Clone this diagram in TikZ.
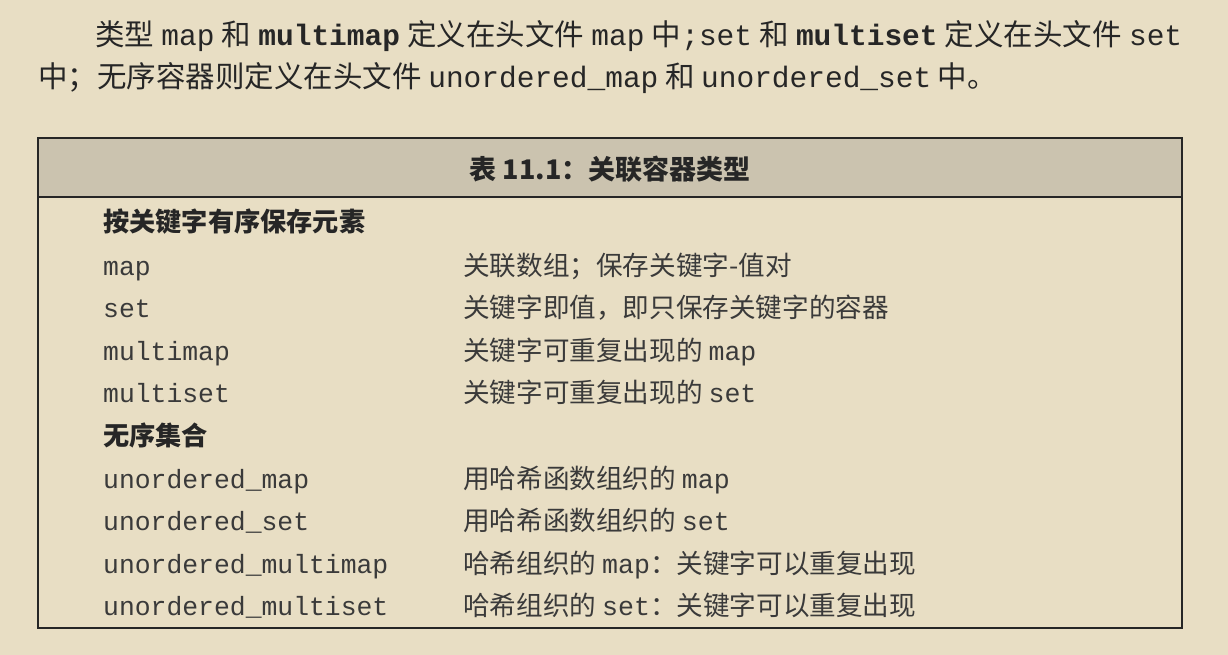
\documentclass[tikz,border=0pt]{standalone}
\usepackage{fontspec}
\setmainfont{Noto Sans CJK SC}
\setmonofont{Liberation Mono}
\definecolor{paper}{HTML}{E8DEC4}
\definecolor{band}{HTML}{CBC3AF}
\definecolor{ink}{HTML}{262626}
\definecolor{inklight}{HTML}{3A3A3A}
\tikzset{
  bodyline/.style={anchor=base west, inner sep=0pt, text=ink, font=\fontsize{29.5}{34}\selectfont},
  grouplabel/.style={anchor=base west, inner sep=0pt, text=ink, font=\fontsize{26.2}{30}\selectfont\bfseries},
  keycell/.style={anchor=base west, inner sep=0pt, text=inklight, font=\fontsize{26.4}{30}\selectfont\ttfamily},
  desccell/.style={anchor=base west, inner sep=0pt, text=inklight, font=\fontsize{26.6}{30}\selectfont},
  titlecell/.style={anchor=base, inner sep=0pt, text=ink, font=\fontsize{27}{30}\selectfont\bfseries},
  frame/.style={draw=ink, line width=1.8pt}
}
\begin{document}
\begin{tikzpicture}[x=1pt,y=-1pt]
\fill[paper] (0,0) rectangle (1228,655);
\useasboundingbox (0,0) rectangle (1228,655);
% paragraph
\node[bodyline] (l1) at (95,46) {\makebox[1087pt][s]{类型 \texttt{map} 和 \texttt{\bfseries multimap} 定义在头文件 \texttt{map} 中\texttt{;set} 和 \texttt{\bfseries multiset} 定义在头文件 \texttt{set}}};
\node[bodyline] (l2) at (38,88) {中；无序容器则定义在头文件 \texttt{unordered\_map} 和 \texttt{unordered\_set} 中。};
% table
\fill[band] (38,138) rectangle (1182,197);
\draw[frame] (38,138) rectangle (1182,628);
\draw[frame] (38,197) -- (1182,197);
\node[titlecell] (title) at (610,180) {表 11.1：关联容器类型};
% rows
\node[grouplabel] (g1) at (103,231) {按关键字有序保存元素};
\node[keycell] (k1) at (103,275) {map};
\node[desccell] (d1) at (463,275) {关联数组；保存关键字-值对};
\node[keycell] (k2) at (103,317) {set};
\node[desccell] (d2) at (463,317) {关键字即值，即只保存关键字的容器};
\node[keycell] (k3) at (103,360) {multimap};
\node[desccell] (d3) at (463,360) {关键字可重复出现的 \texttt{map}};
\node[keycell] (k4) at (103,402) {multiset};
\node[desccell] (d4) at (463,402) {关键字可重复出现的 \texttt{set}};
\node[grouplabel] (g2) at (103,445) {无序集合};
\node[keycell] (k5) at (103,488) {unordered\_map};
\node[desccell] (d5) at (463,488) {用哈希函数组织的 \texttt{map}};
\node[keycell] (k6) at (103,530) {unordered\_set};
\node[desccell] (d6) at (463,530) {用哈希函数组织的 \texttt{set}};
\node[keycell] (k7) at (103,573) {unordered\_multimap};
\node[desccell] (d7) at (463,573) {哈希组织的 \texttt{map}：关键字可以重复出现};
\node[keycell] (k8) at (103,615) {unordered\_multiset};
\node[desccell] (d8) at (463,615) {哈希组织的 \texttt{set}：关键字可以重复出现};
\end{tikzpicture}
\end{document}
